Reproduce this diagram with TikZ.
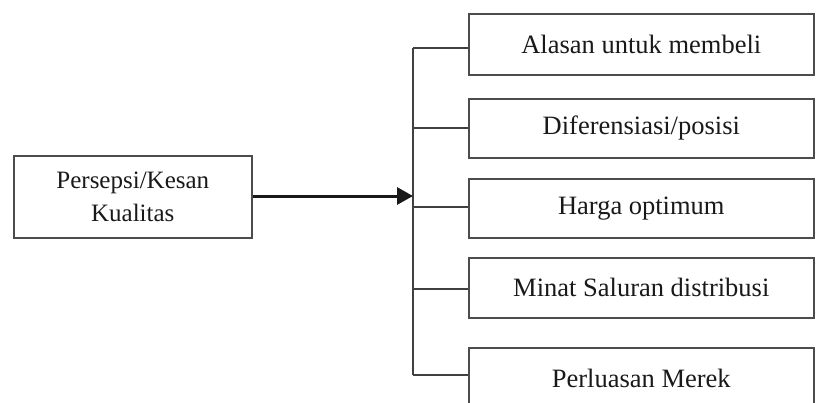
\documentclass[tikz,border=0pt]{standalone}
\usepackage{fontspec}
\setmainfont{Liberation Serif}
\usetikzlibrary{arrows.meta}
\begin{document}
\begin{tikzpicture}[x=1pt,y=-1pt,
  box/.style={draw=black!70, line width=1.6pt, minimum width=345pt, inner sep=0pt, anchor=north west, font=\fontsize{26.5}{30}\selectfont, text=black!90},
  link/.style={draw=black!75, line width=1.5pt},
  mainarrow/.style={draw=black!90, line width=3pt, -{Triangle[length=16pt,width=17pt]}}]
\useasboundingbox (0,0) rectangle (816,402);
\clip (0,0) rectangle (816,402);
\node[box, minimum width=238pt, minimum height=82pt, align=center, font=\fontsize{25}{33}\selectfont] (L) at (13,155) {Persepsi/Kesan\\Kualitas};
\node[box, minimum height=61pt] (r1) at (468,13) {Alasan untuk membeli};
\node[box, minimum height=59pt] (r2) at (468,98) {Diferensiasi/posisi};
\node[box, minimum height=59pt] (r3) at (468,178) {Harga optimum};
\node[box, minimum height=60pt] (r4) at (468,257) {Minat Saluran distribusi};
\node[box, minimum height=62pt] (r5) at (468,347) {Perluasan Merek};
\coordinate (b1) at (413,48);
\coordinate (b2) at (413,128);
\coordinate (b3) at (413,207);
\coordinate (b4) at (413,289);
\coordinate (b5) at (413,375);
\coordinate (tip) at (413,196);
\draw[link] (b1) -- (b5);
\draw[link] (b1) -- (b1 -| r1.west);
\draw[link] (b2) -- (b2 -| r2.west);
\draw[link] (b3) -- (b3 -| r3.west);
\draw[link] (b4) -- (b4 -| r4.west);
\draw[link] (b5) -- (b5 -| r5.west);
\draw[mainarrow] (L.east |- tip) -- (tip);
\end{tikzpicture}
\end{document}
